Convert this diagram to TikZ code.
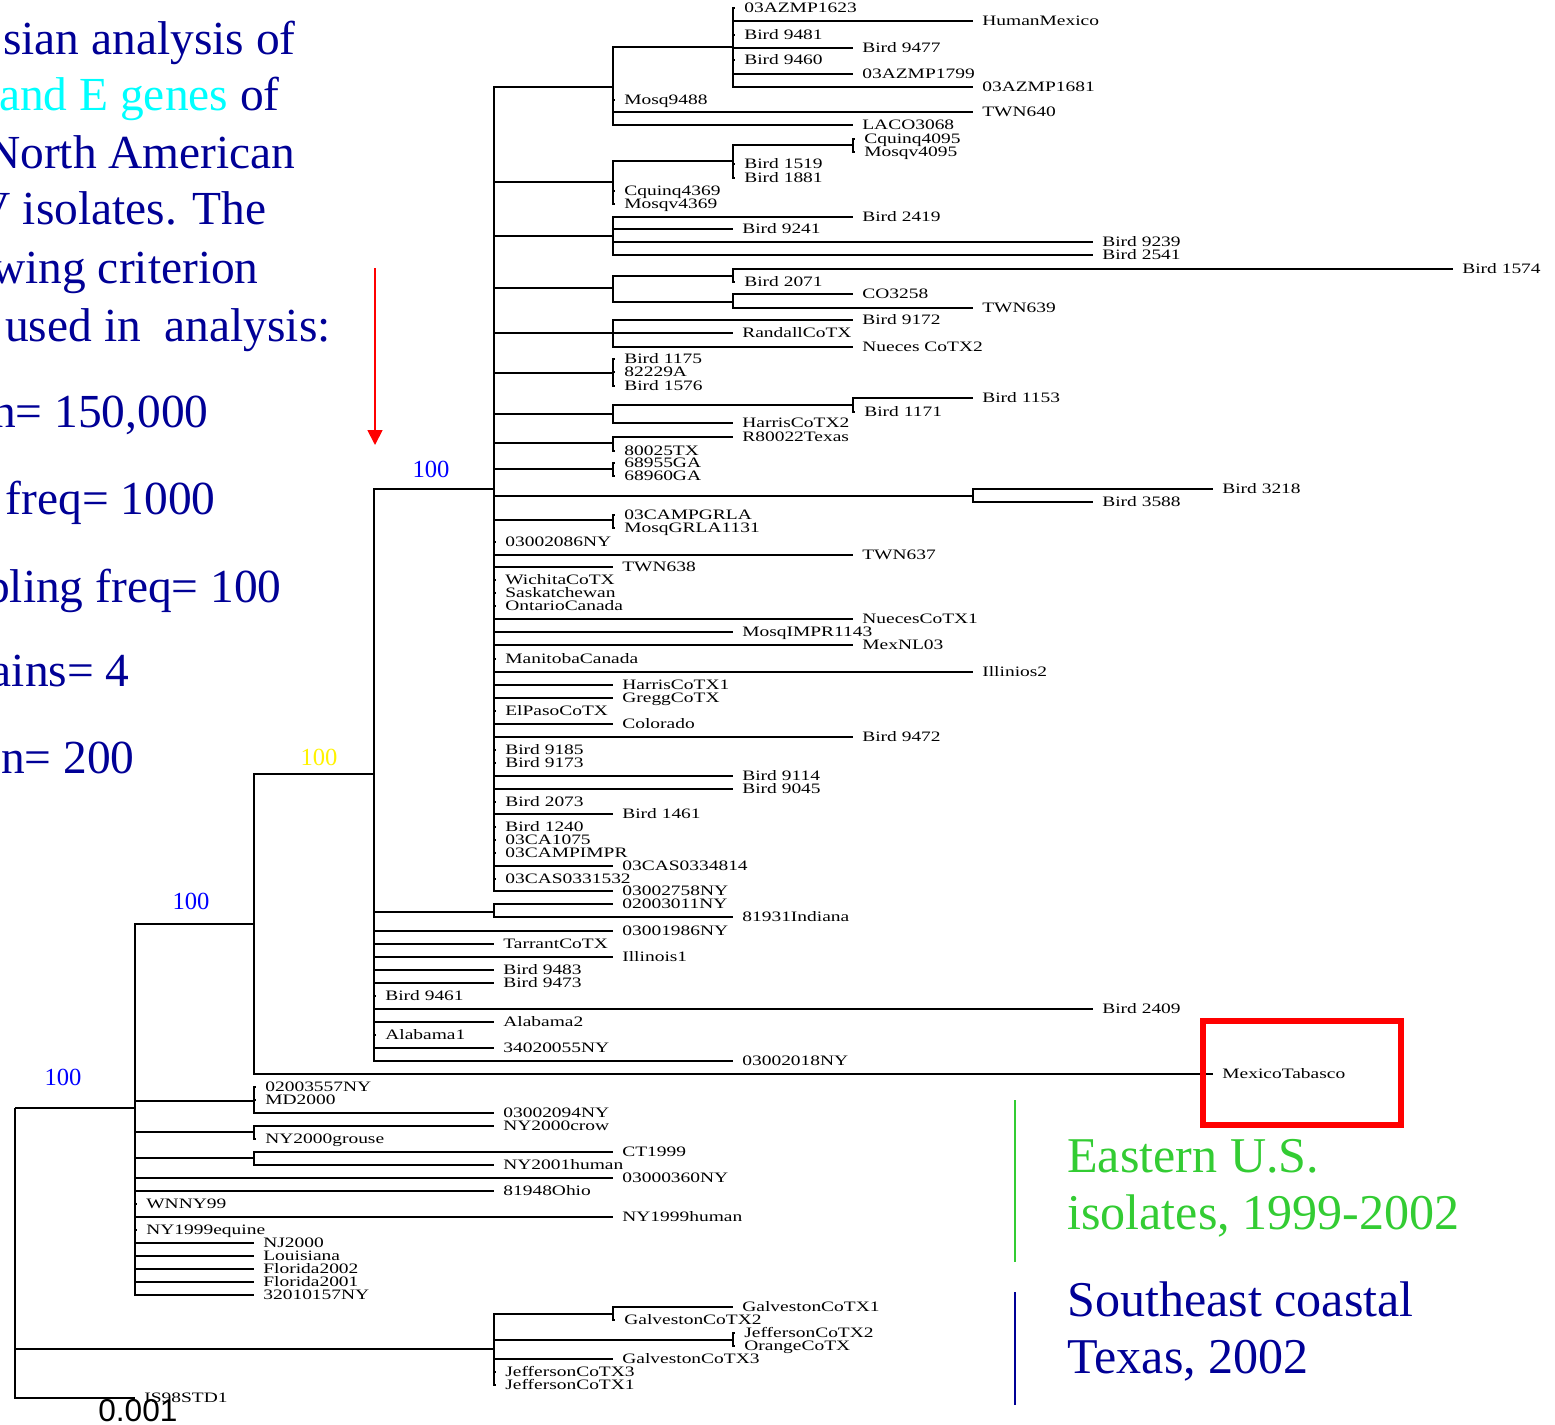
\documentclass[tikz,border=0pt]{standalone}
\usepackage{fontspec}
\setmainfont{Liberation Serif}
\newfontfamily\leaffont[FakeStretch=1.35]{Liberation Serif}
\newfontfamily\barfont{Liberation Sans}
\usetikzlibrary{arrows.meta}
\definecolor{slidenavy}{RGB}{0,0,150}
\definecolor{eastgreen}{RGB}{51,204,51}
\definecolor{genecyan}{RGB}{0,255,255}

\begin{document}
\begin{tikzpicture}[
  x=0.02cm, y=-0.02cm,
  br/.style={line width=1.4pt},
  leaf/.style={anchor=west, inner xsep=0.18cm, inner ysep=0pt, text height=5.4pt,
               text depth=0pt, font=\leaffont\fontsize{8.2}{9}\selectfont},
  boot/.style={font=\fontsize{14}{16}\selectfont, inner sep=0pt},
  bigtxt/.style={anchor=base east, inner sep=0pt, text=slidenavy,
                 font=\fontsize{27}{32}\selectfont},
  grptxt/.style={anchor=base west, inner sep=0pt, font=\fontsize{28.5}{33}\selectfont},
]
  \useasboundingbox (0,0) rectangle (1555,1424);
  \clip (0,0) rectangle (1555,1424);

  % Caption text (cut at the left edge)
  \node[bigtxt] (t1) at (296,54) {sian analysis of};
  \node[bigtxt] (t2) at (280,110) {{\color{genecyan}and E genes} of};
  \node[bigtxt] (t3) at (296,168) {North American};
  \node[bigtxt] (t4) at (267,224) {V isolates. The};
  \node[bigtxt] (t5) at (259,283) {wing criterion};
  \node[bigtxt] (t6) at (331,341) {used in\ \ analysis:};
  \node[bigtxt] (t7) at (209,427) {n= 150,000};
  \node[bigtxt] (t8) at (216,514) {freq= 1000};
  \node[bigtxt] (t9) at (282,602) {pling freq= 100};
  \node[bigtxt] (t10) at (130,686) {ains= 4};
  \node[bigtxt] (t11) at (135,773) {n= 200};

  % Red arrow
  \coordinate (arrtop) at (375,268);
  \coordinate (arrtip) at (375,445);
  \draw[red, line width=1pt, -{Triangle[length=0.3cm, width=0.3cm]}] (arrtop) -- (arrtip);

  % Internal nodes (x of node, y of its stem)
  \coordinate (root) at (15,1108);
  \coordinate (nyc)  at (135,1108);
  \coordinate (wn)   at (254,924);
  \coordinate (na)   at (374,774);
  \coordinate (sw)   at (494,489);
  \coordinate (ind)  at (494,912);
  \coordinate (az)   at (613,87);
  \coordinate (azm)  at (733,47);
  \coordinate (cq)   at (613,182);
  \coordinate (cqa)  at (733,161);
  \coordinate (cqb)  at (853,145);
  \coordinate (b24)  at (613,236);
  \coordinate (b20)  at (613,288);
  \coordinate (b20a) at (733,276);
  \coordinate (b20b) at (733,302);
  \coordinate (rd)   at (613,333);
  \coordinate (b11)  at (613,373);
  \coordinate (hc)   at (613,414);
  \coordinate (hca)  at (853,405);
  \coordinate (tx)   at (613,443);
  \coordinate (ga)   at (613,469);
  \coordinate (b32)  at (973,496);
  \coordinate (la)   at (613,520);
  \coordinate (md)   at (254,1101);
  \coordinate (crow) at (254,1132);
  \coordinate (ct)   at (254,1158);
  \coordinate (gal)  at (494,1349);
  \coordinate (gala) at (613,1314);
  \coordinate (jef)  at (733,1340);

  \foreach \pa/\ch in {root/nyc, root/gal, nyc/wn, nyc/md, nyc/crow, nyc/ct,
      wn/na, na/sw, na/ind, sw/az, sw/cq, sw/b24, sw/b20, sw/rd, sw/b11, sw/hc,
      sw/tx, sw/ga, sw/b32, sw/la, az/azm, cq/cqa, cqa/cqb, b20/b20a, b20/b20b,
      hc/hca, gal/gala, gal/jef}
    { \draw[br] (\pa) |- (\ch); }

  % Leaves: parent/y/branch end/label
  \foreach \pa/\ry/\ex/\lab in {
      azm/8/735/03AZMP1623, azm/21/973/HumanMexico, azm/35/735/Bird 9481,
      azm/48/853/Bird 9477, azm/60/735/Bird 9460, azm/74/853/03AZMP1799,
      azm/87/973/03AZMP1681, az/100/615/Mosq9488, az/112/973/TWN640,
      az/125/853/LACO3068, cqb/139/855/Cquinq4095, cqb/152/855/Mosqv4095,
      cqa/164/735/Bird 1519, cqa/178/735/Bird 1881, cq/191/615/Cquinq4369,
      cq/204/615/Mosqv4369, b24/217/853/Bird 2419, b24/229/733/Bird 9241,
      b24/242/1093/Bird 9239, b24/255/1093/Bird 2541, b20a/269/1453/Bird 1574,
      b20a/282/735/Bird 2071, b20b/294/853/CO3258, b20b/308/973/TWN639,
      rd/320/853/Bird 9172, rd/333/733/RandallCoTX, rd/347/853/Nueces CoTX2,
      b11/359/615/Bird 1175, b11/372/615/82229A, b11/386/615/Bird 1576,
      hca/398/973/Bird 1153, hca/412/855/Bird 1171, hc/423/733/HarrisCoTX2,
      tx/437/733/R80022Texas, tx/451/615/80025TX, ga/463/615/68955GA,
      ga/476/615/68960GA, b32/489/1213/Bird 3218, b32/502/1093/Bird 3588,
      la/515/615/03CAMPGRLA, la/528/615/MosqGRLA1131}
    { \node[leaf] (n\ry) at (\ex,\ry) {\lab}; \draw[br] (\pa) |- (n\ry.west); }

  \foreach \pa/\ry/\ex/\lab in {
      sw/542/496/03002086NY, sw/555/853/TWN637, sw/567/613/TWN638,
      sw/580/496/WichitaCoTX, sw/593/496/Saskatchewan, sw/606/496/OntarioCanada,
      sw/619/853/NuecesCoTX1, sw/632/733/MosqIMPR1143, sw/645/853/MexNL03,
      sw/659/496/ManitobaCanada, sw/672/973/Illinios2, sw/685/613/HarrisCoTX1,
      sw/698/613/GreggCoTX, sw/711/496/ElPasoCoTX, sw/724/613/Colorado,
      sw/737/853/Bird 9472, sw/750/496/Bird 9185, sw/763/496/Bird 9173,
      sw/776/733/Bird 9114, sw/789/733/Bird 9045, sw/802/496/Bird 2073,
      sw/814/613/Bird 1461, sw/827/496/Bird 1240, sw/840/496/03CA1075,
      sw/853/496/03CAMPIMPR, sw/866/613/03CAS0334814, sw/879/496/03CAS0331532,
      sw/891/613/03002758NY, ind/904/613/02003011NY, ind/917/733/81931Indiana,
      na/931/613/03001986NY, na/944/494/TarrantCoTX, na/957/613/Illinois1,
      na/970/494/Bird 9483, na/983/494/Bird 9473, na/996/376/Bird 9461,
      na/1009/1093/Bird 2409, na/1022/494/Alabama2, na/1035/376/Alabama1,
      na/1048/494/34020055NY, na/1061/733/03002018NY, wn/1074/1213/MexicoTabasco}
    { \node[leaf] (n\ry) at (\ex,\ry) {\lab}; \draw[br] (\pa) |- (n\ry.west); }

  \foreach \pa/\ry/\ex/\lab in {
      md/1087/256/02003557NY, md/1100/256/MD2000, md/1113/494/03002094NY,
      crow/1126/494/NY2000crow, crow/1139/256/NY2000grouse, ct/1152/613/CT1999,
      ct/1165/494/NY2001human, nyc/1178/613/03000360NY, nyc/1191/494/81948Ohio,
      nyc/1204/137/WNNY99, nyc/1217/613/NY1999human, nyc/1230/137/NY1999equine,
      nyc/1243/254/NJ2000, nyc/1256/254/Louisiana, nyc/1269/254/Florida2002,
      nyc/1282/254/Florida2001, nyc/1295/254/32010157NY,
      gala/1307/733/GalvestonCoTX1, gala/1320/615/GalvestonCoTX2,
      jef/1333/735/JeffersonCoTX2, jef/1346/735/OrangeCoTX,
      gal/1359/613/GalvestonCoTX3, gal/1372/496/JeffersonCoTX3,
      gal/1385/496/JeffersonCoTX1, root/1398/135/IS98STD1}
    { \node[leaf] (n\ry) at (\ex,\ry) {\lab}; \draw[br] (\pa) |- (n\ry.west); }

  % Clade support values
  \node[boot, text=blue]   (bs1) at (431,469) {100};
  \node[boot, text=yellow] (bs2) at (319,757) {100};
  \node[boot, text=blue]   (bs3) at (191,901) {100};
  \node[boot, text=blue]   (bs4) at (63,1077) {100};

  % Scale
  \node[anchor=base west, inner sep=0pt, font=\barfont\fontsize{18}{20}\selectfont]
    (scl) at (98,1421) {0.001};

  % Highlight box
  \draw[red, line width=3pt] (1203,1021) rectangle (1401,1125);

  % Group labels
  \draw[eastgreen, line width=1pt] (1015,1100) -- (1015,1262);
  \draw[slidenavy, line width=1pt] (1015,1292) -- (1015,1405);
  \node[grptxt, text=eastgreen] (g1) at (1067,1172) {Eastern U.S.};
  \node[grptxt, text=eastgreen] (g2) at (1067,1229) {isolates, 1999-2002};
  \node[grptxt, text=slidenavy] (g3) at (1067,1316) {Southeast coastal};
  \node[grptxt, text=slidenavy] (g4) at (1067,1373) {Texas, 2002};
\end{tikzpicture}
\end{document}
